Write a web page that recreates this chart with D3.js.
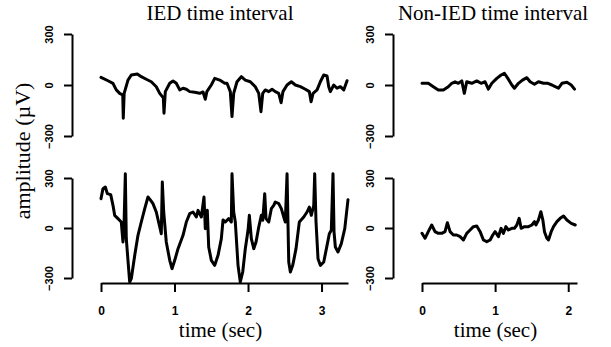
<!DOCTYPE html>
<html>
<head>
<meta charset="utf-8">
<script src="https://cdn.jsdelivr.net/npm/d3@7"></script>
<style>
  body { margin: 0; background: #fff; }
  svg { display: block; }
</style>
</head>
<body>
<div class="eeg-canvas"></div>
<script>
// [time (sec), amplitude (uV)]
var iedTop = [
  [0.00,45],[0.095,25],[0.163,10],[0.208,-29],[0.254,-49],[0.296,-59],[0.303,-196],[0.315,-49],
  [0.367,29],[0.412,59],[0.494,65],[0.548,49],[0.616,34],[0.684,19],[0.752,-10],[0.799,-49],
  [0.848,-76],[0.857,-166],[0.875,-39],[0.935,10],[0.98,24],[1.024,10],[1.071,-29],[1.116,-19],
  [1.161,-25],[1.207,-39],[1.275,-43],[1.343,-49],[1.388,-41],[1.419,-84],[1.440,-39],[1.50,0],
  [1.547,39],[1.615,29],[1.683,10],[1.714,10],[1.759,-39],[1.782,-186],[1.805,-49],[1.850,19],
  [1.909,49],[1.963,29],[2.031,19],[2.099,-10],[2.146,-49],[2.176,-157],[2.200,-49],[2.235,-29],
  [2.282,-39],[2.327,-25],[2.371,-39],[2.418,-49],[2.450,-104],[2.475,-39],[2.531,0],[2.589,19],
  [2.644,0],[2.712,-10],[2.78,-25],[2.834,-39],[2.858,-98],[2.885,-49],[2.939,-29],[2.984,19],
  [3.03,59],[3.075,53],[3.098,-10],[3.12,-39],[3.166,0],[3.211,-19],[3.256,-10],[3.302,-29],[3.347,25]
];

var iedBottom = [
  [0.0,176],[0.027,236],[0.059,246],[0.086,206],[0.132,200],[0.163,136],[0.186,76],[0.231,56],
  [0.276,36],[0.299,-84],[0.313,16],[0.331,326],[0.344,-64],[0.390,-324],[0.412,-304],[0.459,-164],
  [0.503,-44],[0.548,36],[0.595,116],[0.639,186],[0.676,166],[0.707,146],[0.752,96],[0.799,6],
  [0.820,-34],[0.834,276],[0.853,96],[0.888,-84],[0.935,-194],[0.966,-244],[1.003,-194],[1.048,-124],
  [1.116,-44],[1.161,36],[1.207,86],[1.252,96],[1.297,66],[1.320,106],[1.365,66],[1.401,186],
  [1.419,-4],[1.446,106],[1.465,-114],[1.501,-194],[1.547,-224],[1.592,-164],[1.637,-64],[1.660,48],
  [1.691,36],[1.737,56],[1.773,36],[1.782,326],[1.805,96],[1.827,36],[1.864,-224],[1.895,-324],
  [1.928,-264],[1.963,-124],[2.000,-14],[2.018,76],[2.045,-64],[2.078,-124],[2.109,-84],[2.146,6],
  [2.181,76],[2.200,46],[2.227,206],[2.245,56],[2.282,36],[2.317,116],[2.350,136],[2.371,156],
  [2.418,146],[2.453,116],[2.486,66],[2.507,36],[2.531,326],[2.544,16],[2.554,-204],[2.576,-264],
  [2.608,-224],[2.653,-124],[2.698,36],[2.758,66],[2.803,96],[2.834,126],[2.861,76],[2.894,136],
  [2.907,326],[2.925,36],[2.952,-184],[2.984,-224],[3.030,-204],[3.075,-104],[3.106,-34],[3.133,-14],
  [3.156,326],[3.170,-24],[3.188,-114],[3.224,-144],[3.269,-94],[3.316,-4],[3.360,170]
];

var nonTop = [
  [0,10],[0.086,10],[0.155,-10],[0.223,-29],[0.292,-29],[0.360,-10],[0.407,10],[0.452,19],
  [0.497,10],[0.544,24],[0.579,-49],[0.612,19],[0.681,10],[0.749,24],[0.808,10],[0.863,19],
  [0.908,-24],[0.955,10],[1.023,39],[1.082,59],[1.127,69],[1.174,39],[1.229,0],[1.264,-19],
  [1.319,10],[1.374,29],[1.434,43],[1.479,19],[1.538,4],[1.593,19],[1.662,10],[1.722,10],
  [1.777,0],[1.822,-10],[1.867,-19],[1.914,10],[1.982,16],[2.041,0],[2.086,-24]
];

var nonBottom = [
  [0,-32],[0.041,-62],[0.086,-22],[0.133,18],[0.178,-22],[0.223,-32],[0.270,-32],[0.315,-22],
  [0.347,32],[0.384,-22],[0.429,-42],[0.475,-42],[0.521,-52],[0.566,-72],[0.612,-32],[0.658,-12],
  [0.703,8],[0.749,12],[0.795,-22],[0.840,-72],[0.886,-82],[0.932,-72],[0.968,-42],[1.0,-22],
  [1.045,-52],[1.082,-2],[1.114,-32],[1.147,8],[1.182,-12],[1.229,-2],[1.264,-2],[1.297,18],
  [1.329,58],[1.356,-2],[1.401,8],[1.456,8],[1.503,18],[1.538,38],[1.558,18],[1.593,48],
  [1.626,98],[1.653,48],[1.675,-22],[1.708,-62],[1.730,-72],[1.767,-22],[1.799,8],[1.845,38],
  [1.890,58],[1.936,72],[1.982,48],[2.041,28],[2.096,18]
];

var ampTicks = [-300, 0, 300];
var iedTimeTicks = [0, 1, 2, 3];
var nonTimeTicks = [0, 1, 2];
var titles = ["IED time interval", "Non-IED time interval"];

var width = 611;
var height = 347;

var svg = d3.select(".eeg-canvas")
  .append("svg")
  .attr("width", width)
  .attr("height", height)
  .attr("viewBox", [0, 0, width, height]);

var panels = [
  { data: iedTop, tMax: 3.36, x0: 101, x1: 348, axisX: 72, yTop: 34, yBot: 136, ticks: null },
  { data: iedBottom, tMax: 3.36, x0: 101, x1: 348, axisX: 72, yTop: 178, yBot: 278, ticks: iedTimeTicks },
  { data: nonTop, tMax: 2.12, x0: 422, x1: 577, axisX: 393, yTop: 34, yBot: 136, ticks: null },
  { data: nonBottom, tMax: 2.12, x0: 422, x1: 577, axisX: 393, yTop: 178, yBot: 278, ticks: nonTimeTicks }
];

panels.forEach(p => {
  var x = d3.scaleLinear()
    .domain([0, p.tMax])
    .range([p.x0, p.x1]);

  var y = d3.scaleLinear()
    .domain([-300, 300])
    .range([p.yBot, p.yTop]);

  var yAxis = g => g
    .attr("transform", `translate(${p.axisX},0)`)
    .call(d3.axisLeft(y).tickValues(ampTicks).tickFormat(d3.format("d")).tickSize(8).tickSizeOuter(0))
    .call(g => g.selectAll("path, line").attr("stroke", "#000").attr("stroke-width", 2))
    .selectAll("text")
    .attr("transform", "rotate(-90)")
    .attr("x", 0)
    .attr("y", -19)
    .attr("dy", 0)
    .attr("fill", "#000")
    .attr("font-family", "Liberation Sans, Arial, sans-serif")
    .attr("font-weight", "bold")
    .attr("font-size", 11)
    .style("text-anchor", "middle");

  svg.append("g").call(yAxis);

  if (p.ticks) {
    var xAxis = g => g
      .attr("transform", `translate(0,${283})`)
      .call(d3.axisBottom(x).tickValues(p.ticks).tickFormat(d3.format("d")).tickSize(9).tickSizeOuter(0))
      .call(g => g.selectAll("path, line").attr("stroke", "#000").attr("stroke-width", 2))
      .selectAll("text")
      .attr("y", 32)
      .attr("dy", 0)
      .attr("fill", "#000")
      .attr("font-family", "Liberation Sans, Arial, sans-serif")
      .attr("font-weight", "bold")
      .attr("font-size", 12);

    svg.append("g").call(xAxis);

    svg.append("text")
      .attr("x", (p.x0 + p.x1) / 2 - 4)
      .attr("y", 337)
      .attr("text-anchor", "middle")
      .attr("font-family", "Liberation Serif, Times New Roman, serif")
      .attr("font-size", 21)
      .text("time (sec)");
  }

  svg.append("path")
    .datum(p.data)
    .attr("fill", "none")
    .attr("stroke", "#000")
    .attr("stroke-width", 3)
    .attr("stroke-linejoin", "round")
    .attr("stroke-linecap", "round")
    .attr("d", d3.line()
      .x(d => x(d[0]))
      .y(d => y(d[1]))
    );
});

svg.append("text")
  .attr("x", 220)
  .attr("y", 20)
  .attr("text-anchor", "middle")
  .attr("font-family", "Liberation Serif, Times New Roman, serif")
  .attr("font-size", 21)
  .text(titles[0]);

svg.append("text")
  .attr("x", 493)
  .attr("y", 20)
  .attr("text-anchor", "middle")
  .attr("font-family", "Liberation Serif, Times New Roman, serif")
  .attr("font-size", 21)
  .text(titles[1]);

svg.append("text")
  .attr("transform", "translate(30,151) rotate(-90)")
  .attr("text-anchor", "middle")
  .attr("font-family", "Liberation Serif, Times New Roman, serif")
  .attr("font-size", 22)
  .text("amplitude (\u00b5V)");
</script>
</body>
</html>
